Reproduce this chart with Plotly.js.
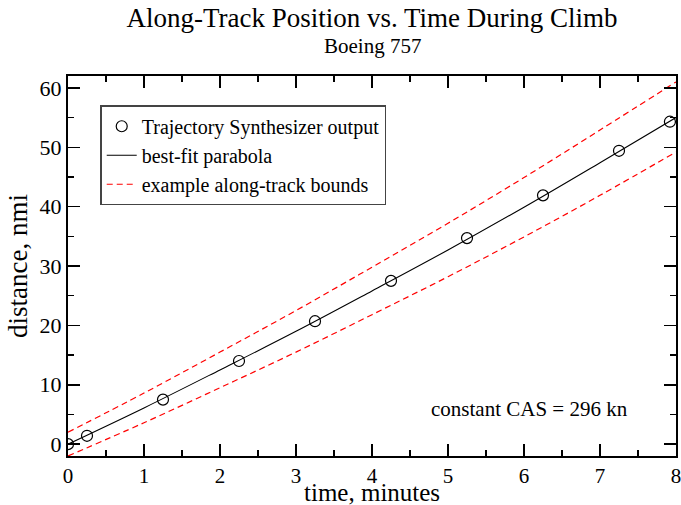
<!DOCTYPE html>
<html>
<head>
<meta charset="utf-8">
<script src="https://cdn.plot.ly/plotly-3.0.1.min.js"></script>
<style>html,body{margin:0;padding:0;background:#fff;}#chart{width:681px;height:505px;}</style>
</head>
<body>
<div id="chart"></div>
<script>
// Trajectory Synthesizer output samples
const tsTime = [0, 0.25, 1.25, 2.25, 3.25, 4.25, 5.25, 6.25, 7.25, 7.92];
const tsDist = [0, 1.4, 7.5, 14.0, 20.7, 27.5, 34.7, 41.9, 49.4, 54.3];
// curves read at whole minutes
const curveTime = [0, 1, 2, 3, 4, 5, 6, 7, 8];
const fitDist = [0, 6.1, 12.5, 19.0, 25.8, 32.7, 39.9, 47.4, 55.0];
const upperDist = [2.0, 8.6, 15.5, 22.5, 29.8, 37.2, 44.9, 52.9, 61.0];
const lowerDist = [-2.0, 3.6, 9.5, 15.5, 21.8, 28.2, 34.9, 41.9, 49.2];
const xTicks = [0, 1, 2, 3, 4, 5, 6, 7, 8];
const yTicks = [0, 10, 20, 30, 40, 50, 60];

const FONT = 'Liberation Serif, Times New Roman, serif';

const traces = [
  {x: tsTime, y: tsDist, mode: 'markers', name: 'Trajectory Synthesizer output',
   marker: {symbol: 'circle-open', size: 11, color: 'black', line: {width: 1.2, color: 'black'}}},
  {x: curveTime, y: fitDist, mode: 'lines', name: 'best-fit parabola', line: {shape: 'spline', color: 'black', width: 1.1}},
  {x: curveTime, y: upperDist, mode: 'lines', name: 'example along-track bounds', line: {shape: 'spline', color: 'red', width: 1.2, dash: '6px,4px'}},
  {x: curveTime, y: lowerDist, mode: 'lines', name: 'lower', showlegend: false, line: {shape: 'spline', color: 'red', width: 1.2, dash: '6px,4px'}}
];

const axisCommon = {
  showline: true, linecolor: 'black', linewidth: 2, mirror: 'allticks',
  ticks: 'inside', ticklen: 12, tickwidth: 1.5, tickcolor: 'black',
  showgrid: false, zeroline: false, ticklabeloverflow: 'allow',
  tickfont: {family: FONT, size: 22, color: 'black'}
};

const layout = {
  width: 681, height: 505,
  margin: {l: 68, r: 5, t: 76, b: 49},
  paper_bgcolor: 'white', plot_bgcolor: 'white',
  font: {family: FONT, color: 'black'},
  title: {text: 'Along-Track Position vs. Time During Climb',
          font: {family: FONT, size: 27, color: 'black'}, x: 0.5, xanchor: 'center', xref: 'paper',
          y: 0.965, yanchor: 'middle'},
  xaxis: Object.assign({}, axisCommon, {
    range: [0, 8], tickvals: xTicks, ticktext: xTicks.map(String),
    tickfont: {family: FONT, size: 21, color: 'black'},
    minor: {ticks: 'inside', ticklen: 6, dtick: 0.5, tickcolor: 'black', tickwidth: 1.2}
  }),
  yaxis: Object.assign({}, axisCommon, {
    range: [-2, 62], tickvals: yTicks, ticktext: yTicks.map(String),
    minor: {ticks: 'inside', ticklen: 6, dtick: 5, tick0: 0, tickcolor: 'black', tickwidth: 1.2},
    title: {text: 'distance, nmi', font: {family: FONT, size: 27, color: 'black'}, standoff: 4}
  }),
  showlegend: true,
  legend: {x: 0.053, y: 0.923, xanchor: 'left', yanchor: 'top',
           bordercolor: '#444', borderwidth: 1.5, bgcolor: 'white',
           font: {family: FONT, size: 20, color: 'black'}, itemwidth: 30},
  annotations: [
    {x: 0.5, y: 1.079, xref: 'paper', yref: 'paper', text: 'Boeing 757', showarrow: false,
     xanchor: 'center', yanchor: 'middle', font: {family: FONT, size: 21, color: 'black'}},
    {x: 0.5, y: -0.097, xref: 'paper', yref: 'paper', text: 'time, minutes', showarrow: false,
     xanchor: 'center', yanchor: 'middle', font: {family: FONT, size: 25, color: 'black'}},
    {x: 6.07, y: 6.0, xref: 'x', yref: 'y', text: 'constant CAS = 296 kn', showarrow: false,
     font: {family: FONT, size: 21, color: 'black'}}
  ]
};

Plotly.newPlot('chart', traces, layout, {staticPlot: true});
</script>
</body>
</html>
